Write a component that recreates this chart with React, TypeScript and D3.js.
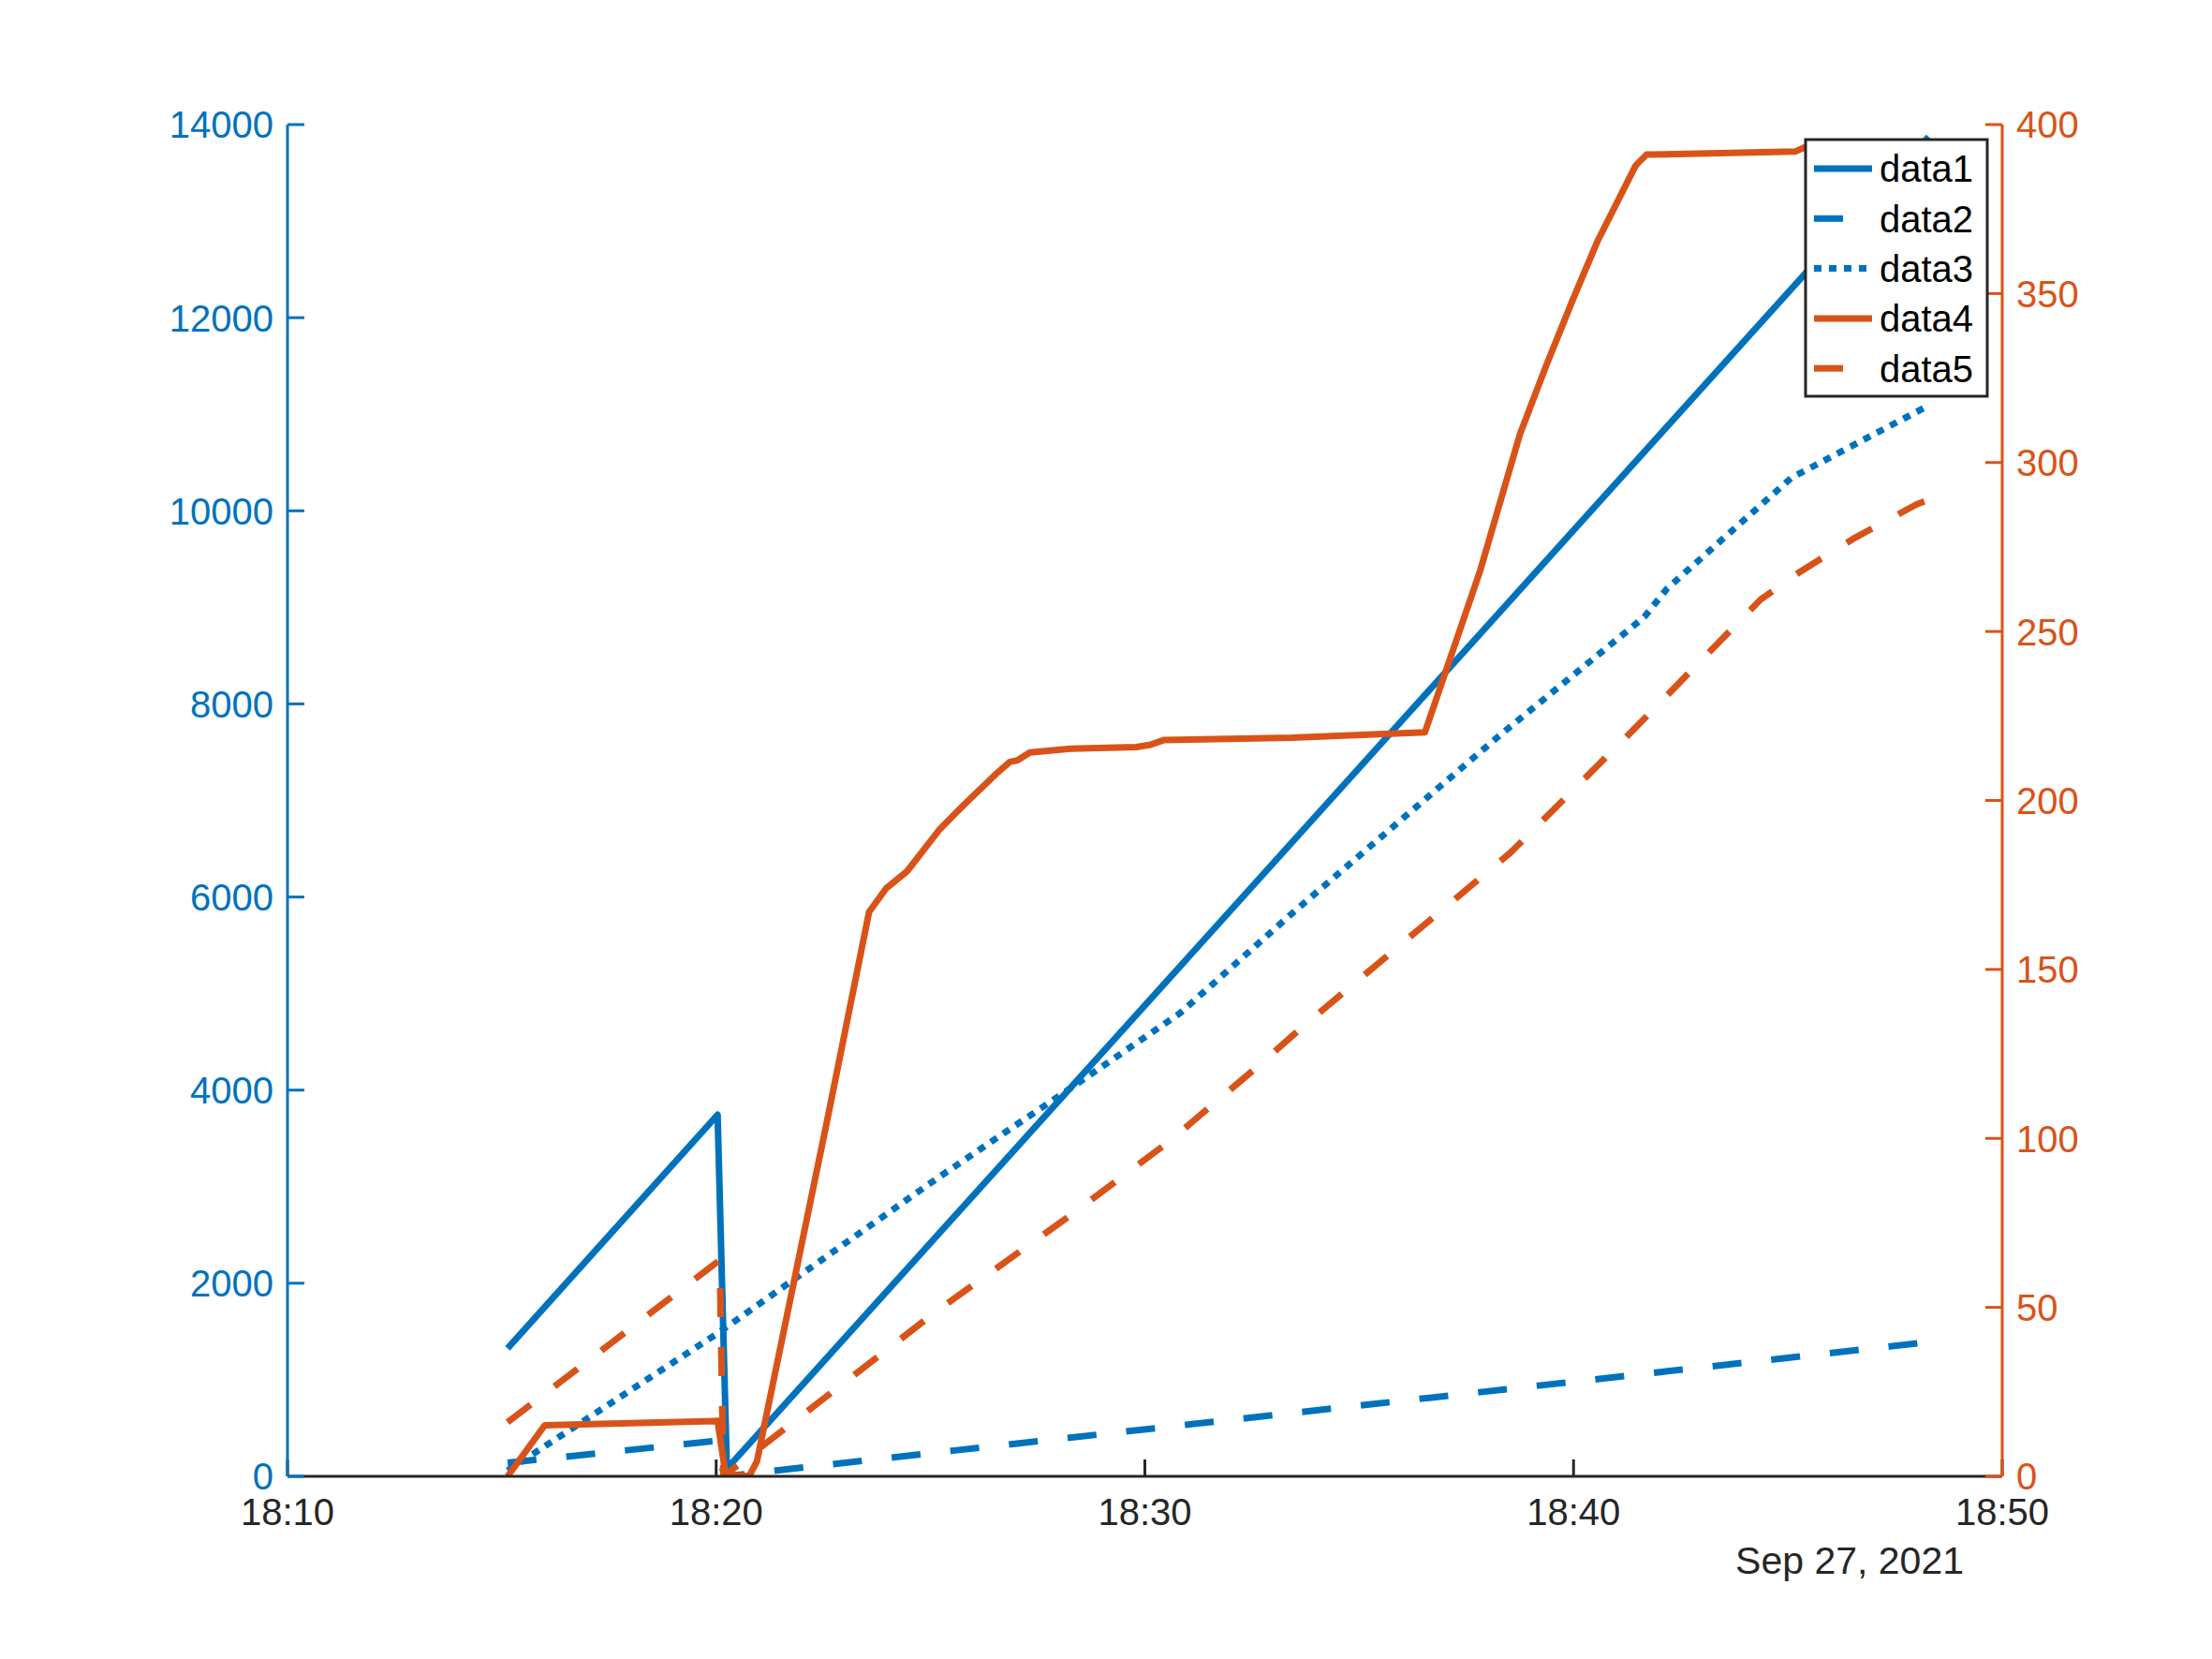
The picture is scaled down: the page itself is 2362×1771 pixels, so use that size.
import React from 'react';
import * as d3 from 'd3';

// day of the recording, shown under the time axis
const day = '2021-09-27';
const dateLabel = 'Sep 27, 2021';

const xTickTimes = ['18:10:00', '18:20:00', '18:30:00', '18:40:00', '18:50:00'];
const leftTicks = [0, 2000, 4000, 6000, 8000, 10000, 12000, 14000];
const rightTicks = [0, 50, 100, 150, 200, 250, 300, 350, 400];

// [time, value]
const data1: [string, number][] = [
    ['18:15:08', 1326], ['18:20:02', 3745], ['18:20:15', 80], ['18:48:17', 13874],
];
const data2: [string, number][] = [
    ['18:15:08', 140], ['18:19:58', 366], ['18:20:12', 0], ['18:25:34', 268],
    ['18:35:26', 754], ['18:48:17', 1390],
];
const data3: [string, number][] = [
    ['18:15:08', 60], ['18:20:02', 1481], ['18:25:10', 3090], ['18:28:16', 4020],
    ['18:30:49', 4796], ['18:33:26', 5830], ['18:38:14', 7658], ['18:41:39', 8900],
    ['18:42:11', 9195], ['18:45:05', 10342], ['18:48:16', 11087],
];
// right axis series
const data4: [string, number][] = [
    ['18:15:08', 0], ['18:16:00', 15.1], ['18:20:02', 16.4], ['18:20:13', 0.8],
    ['18:20:46', 0], ['18:20:57', 4.4], ['18:22:35', 105], ['18:23:34', 167],
    ['18:23:58', 174], ['18:24:27', 179], ['18:25:13', 191.5], ['18:25:50', 199.4],
    ['18:26:31', 207.7], ['18:26:51', 211.4], ['18:27:02', 211.9], ['18:27:19', 214.2],
    ['18:28:16', 215.3], ['18:29:48', 215.8], ['18:30:08', 216.5], ['18:30:27', 217.9],
    ['18:33:26', 218.6], ['18:36:32', 220.2], ['18:37:49', 267.8], ['18:38:45', 308.4],
    ['18:39:22', 328.8], ['18:39:59', 348.2], ['18:40:34', 365.7], ['18:41:27', 387.9],
    ['18:41:42', 391.1], ['18:45:10', 392], ['18:45:25', 393.4], ['18:48:17', 394],
];
const data5: [string, number][] = [
    ['18:15:08', 16], ['18:20:05', 64], ['18:20:10', 0], ['18:25:08', 48.8],
    ['18:28:20', 77.9], ['18:30:34', 99.1], ['18:32:43', 122.2], ['18:33:40', 132.9],
    ['18:38:32', 184.6], ['18:41:27', 221.6], ['18:44:22', 259.5], ['18:45:18', 267.8],
    ['18:46:32', 277.5], ['18:48:00', 287.6], ['18:48:17', 289],
];

const BLUE = '#0072BD';
const ORANGE = '#D95319';
const AXIS = '#262626';
const FONT = '"Liberation Sans", Arial, Helvetica, sans-serif';

const width = 2362;
const height = 1771;
const plot = { left: 307, right: 2138, top: 133, bottom: 1576 };

const parseTime = d3.timeParse('%Y-%m-%d %H:%M:%S');
const toDate = (t: string) => parseTime(`${day} ${t}`) as Date;

const series = [
    { name: 'data1', values: data1, color: BLUE, dash: undefined, side: 'left' },
    { name: 'data2', values: data2, color: BLUE, dash: '31 32', side: 'left' },
    { name: 'data3', values: data3, color: BLUE, dash: '8 8', side: 'left' },
    { name: 'data4', values: data4, color: ORANGE, dash: undefined, side: 'right' },
    { name: 'data5', values: data5, color: ORANGE, dash: '31 32', side: 'right' },
];

const App: React.FC = () => {
    const xScale = d3.scaleTime()
        .domain([toDate(xTickTimes[0]), toDate(xTickTimes[xTickTimes.length - 1])])
        .range([plot.left, plot.right]);
    const yLeft = d3.scaleLinear().domain([0, 14000]).range([plot.bottom, plot.top]);
    const yRight = d3.scaleLinear().domain([0, 400]).range([plot.bottom, plot.top]);
    const fmt = d3.timeFormat('%H:%M');

    const tickLen = 18;
    const fontSize = 40;

    // legend box
    const lg = { x: 1928, y: 149, w: 194, h: 274 };
    const rowH = 53.3;

    return (
        <svg
            width={width}
            height={height}
            style={{ position: 'absolute', left: 0, top: 0, background: '#fff' }}
            fontFamily={FONT}
        >
            <defs>
                <clipPath id="plot-area">
                    <rect x={plot.left} y={plot.top - 20} width={plot.right - plot.left} height={plot.bottom - plot.top + 20} />
                </clipPath>
            </defs>

            {/* data lines */}
            <g clipPath="url(#plot-area)">
                {series.map(s => {
                    const y = s.side === 'left' ? yLeft : yRight;
                    const line = d3.line<[string, number]>()
                        .x(d => xScale(toDate(d[0])))
                        .y(d => y(d[1]));
                    return (
                        <path
                            key={s.name}
                            d={line(s.values) || ''}
                            fill="none"
                            stroke={s.color}
                            strokeWidth={7}
                            strokeDasharray={s.dash}
                            strokeLinejoin="round"
                            strokeLinecap="butt"
                        />
                    );
                })}
            </g>

            {/* x axis */}
            <line x1={plot.left} x2={plot.right} y1={plot.bottom} y2={plot.bottom} stroke={AXIS} strokeWidth={3} />
            {xTickTimes.map(t => {
                const x = xScale(toDate(t));
                return (
                    <g key={t}>
                        <line x1={x} x2={x} y1={plot.bottom} y2={plot.bottom - tickLen} stroke={AXIS} strokeWidth={3} />
                        <text x={x} y={plot.bottom + 52} textAnchor="middle" fontSize={fontSize} fill={AXIS}>
                            {fmt(toDate(t))}
                        </text>
                    </g>
                );
            })}
            <text x={2097} y={1680} textAnchor="end" fontSize={41} fill={AXIS}>{dateLabel}</text>

            {/* left axis */}
            <line x1={plot.left} x2={plot.left} y1={plot.top} y2={plot.bottom} stroke={BLUE} strokeWidth={3} />
            {leftTicks.map(v => (
                <g key={v}>
                    <line x1={plot.left} x2={plot.left + tickLen} y1={yLeft(v)} y2={yLeft(v)} stroke={BLUE} strokeWidth={3} />
                    <text x={plot.left - 15} y={yLeft(v)} dy="0.36em" textAnchor="end" fontSize={fontSize} fill={BLUE}>
                        {v}
                    </text>
                </g>
            ))}

            {/* right axis */}
            <line x1={plot.right} x2={plot.right} y1={plot.top} y2={plot.bottom} stroke={ORANGE} strokeWidth={3} />
            {rightTicks.map(v => (
                <g key={v}>
                    <line x1={plot.right} x2={plot.right - tickLen} y1={yRight(v)} y2={yRight(v)} stroke={ORANGE} strokeWidth={3} />
                    <text x={plot.right + 15} y={yRight(v)} dy="0.36em" textAnchor="start" fontSize={fontSize} fill={ORANGE}>
                        {v}
                    </text>
                </g>
            ))}

            {/* legend */}
            <rect x={lg.x} y={lg.y} width={lg.w} height={lg.h} fill="#fff" stroke={AXIS} strokeWidth={3} />
            {series.map((s, i) => {
                const cy = lg.y + 31 + i * rowH;
                return (
                    <g key={s.name}>
                        <line
                            x1={lg.x + 9}
                            x2={lg.x + 71}
                            y1={cy}
                            y2={cy}
                            stroke={s.color}
                            strokeWidth={7}
                            strokeDasharray={s.dash}
                        />
                        <text x={lg.x + 79} y={cy} dy="0.36em" fontSize={fontSize} fill="#000">
                            {s.name}
                        </text>
                    </g>
                );
            })}
        </svg>
    );
};

export default App;
